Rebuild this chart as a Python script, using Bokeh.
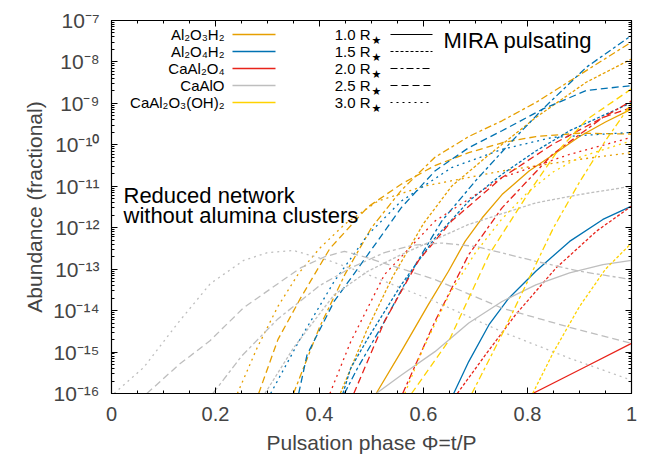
from bokeh.plotting import figure
from bokeh.models import Range1d, FixedTicker, LinearAxis, LogAxis, Label, CustomJSTickFormatter
from bokeh.embed import file_html
from bokeh.resources import INLINE

# ---------------- data (phase, log10 abundance) ----------------
species = ["Al\u2082O\u2083H\u2082", "Al\u2082O\u2084H\u2082", "CaAl\u2082O\u2084", "CaAlO", "CaAl\u2082O\u2083(OH)\u2082"]
radii = ["1.0", "1.5", "2.0", "2.5", "3.0"]

# Al2O3H2
al2o3h2_10_x = [0.509, 0.557, 0.609, 0.648, 0.68, 0.713, 0.751, 0.803, 0.855, 0.9, 0.95, 1.0]
al2o3h2_10_y = [-16.0, -14.99, -13.86, -13.05, -12.33, -11.76, -11.2, -10.63, -10.19, -9.8, -9.45, -9.14]
al2o3h2_15_x = [0.44, 0.49, 0.54, 0.6, 0.654, 0.719, 0.816, 0.913, 1.0]
al2o3h2_15_y = [-16.0, -14.5, -13.2, -11.9, -11.0, -10.31, -9.34, -8.49, -7.93]
al2o3h2_20_x = [0.35, 0.4, 0.45, 0.5, 0.557, 0.622, 0.687, 0.751, 0.816, 0.913, 1.0]
al2o3h2_20_y = [-16.0, -14.4, -13.1, -12.0, -11.1, -10.3, -9.8, -9.42, -8.98, -8.21, -7.52]
al2o3h2_25_x = [0.283, 0.32, 0.3635, 0.42, 0.493, 0.557, 0.622, 0.687, 0.751, 0.816, 0.9, 1.0]
al2o3h2_25_y = [-16.0, -14.7, -13.7, -12.5, -11.5, -10.95, -10.5, -10.19, -9.95, -9.8, -9.72, -9.74]
al2o3h2_30_x = [0.242, 0.28, 0.32, 0.36, 0.4, 0.45, 0.512, 0.6, 0.751, 0.9, 1.0]
al2o3h2_30_y = [-16.0, -14.9, -13.9, -13.1, -12.5, -11.9, -11.36, -11.0, -10.63, -10.35, -10.19]

# Al2O4H2
al2o4h2_10_x = [0.658, 0.687, 0.726, 0.764, 0.816, 0.881, 0.945, 1.0]
al2o4h2_10_y = [-16.0, -15.23, -14.34, -13.7, -13.05, -12.33, -11.8, -11.48]
al2o4h2_15_x = [0.445, 0.46, 0.493, 0.557, 0.622, 0.687, 0.751, 0.816, 0.881, 1.0]
al2o4h2_15_y = [-16.0, -15.39, -14.67, -13.38, -12.25, -11.36, -10.71, -10.15, -9.66, -8.98]
al2o4h2_20_x = [0.448, 0.473, 0.525, 0.577, 0.635, 0.7, 0.764, 0.829, 0.913, 1.0]
al2o4h2_20_y = [-16.0, -15.39, -14.26, -13.05, -11.84, -10.87, -9.99, -9.14, -8.13, -7.36]
al2o4h2_25_x = [0.36, 0.376, 0.428, 0.493, 0.557, 0.622, 0.687, 0.751, 0.829, 0.913, 1.0]
al2o4h2_25_y = [-16.0, -15.07, -13.78, -12.65, -11.52, -10.63, -10.07, -9.66, -9.14, -8.69, -8.57]
al2o4h2_30_x = [0.306, 0.3635, 0.428, 0.493, 0.557, 0.654, 0.751, 0.848, 1.0]
al2o4h2_30_y = [-16.0, -14.67, -13.3, -12.17, -11.36, -10.55, -10.11, -9.82, -9.7]

# CaAl2O4
caal2o4_10_x = [0.81, 0.906, 1.0]
caal2o4_10_y = [-16.0, -15.39, -14.79]
caal2o4_15_x = [0.665, 0.719, 0.777, 0.855, 0.933, 1.0]
caal2o4_15_y = [-16.0, -15.07, -14.1, -12.97, -12.08, -11.48]
caal2o4_20_x = [0.56, 0.622, 0.687, 0.751, 0.848, 0.945, 1.0]
caal2o4_20_y = [-16.0, -14.26, -12.65, -11.52, -10.23, -9.34, -8.94]
caal2o4_25_x = [0.466, 0.525, 0.59, 0.654, 0.751, 0.848, 0.945, 1.0]
caal2o4_25_y = [-16.0, -14.26, -12.8, -11.84, -10.79, -9.99, -9.34, -9.1]
caal2o4_30_x = [0.42, 0.46, 0.525, 0.622, 0.751, 0.881, 1.0]
caal2o4_30_y = [-16.0, -14.75, -13.13, -11.84, -10.79, -10.23, -9.82]

# CaAlO
caalo_10_x = [0.509, 0.557, 0.622, 0.687, 0.751, 0.816, 0.881, 0.945, 1.0]
caalo_10_y = [-16.0, -15.56, -14.99, -14.3, -13.78, -13.38, -13.09, -12.89, -12.79]
caalo_15_x = [0.295, 0.35, 0.428, 0.493, 0.557, 0.687, 0.816, 0.9, 1.0]
caalo_15_y = [-16.0, -14.9, -13.62, -13.05, -12.65, -11.92, -11.4, -11.2, -11.0]
caalo_20_x = [0.195, 0.25, 0.32, 0.4, 0.46, 0.525, 0.58, 0.635, 0.7, 0.816, 0.9, 1.0]
caalo_20_y = [-16.0, -15.1, -14.2, -13.4, -12.97, -12.6, -12.42, -12.37, -12.45, -12.81, -13.05, -13.25]
caalo_25_x = [0.068, 0.13, 0.19, 0.254, 0.32, 0.3635, 0.41, 0.448, 0.493, 0.622, 0.751, 0.88, 1.0]
caalo_25_y = [-16.0, -15.3, -14.72, -13.93, -13.35, -12.97, -12.7, -12.57, -12.73, -13.25, -13.94, -14.4, -14.79]
caalo_30_x = [0.005, 0.062, 0.127, 0.19, 0.254, 0.3, 0.35, 0.42, 0.493, 0.622, 0.751, 0.881, 1.0]
caalo_30_y = [-16.0, -15.37, -14.31, -13.35, -12.79, -12.6, -12.55, -12.8, -13.13, -13.78, -14.51, -15.15, -15.68]

# CaAl2O3(OH)2
caal2o3oh2_15_x = [0.81, 0.85, 0.9, 0.95, 1.0]
caal2o3oh2_15_y = [-16.0, -15.0, -13.9, -13.0, -12.37]
caal2o3oh2_20_x = [0.693, 0.75, 0.8, 0.85, 0.9, 0.95, 1.0]
caal2o3oh2_20_y = [-16.0, -14.6, -13.3, -12.0, -10.9, -9.9, -9.0]
caal2o3oh2_25_x = [0.577, 0.65, 0.726, 0.8, 0.855, 0.913, 1.0]
caal2o3oh2_25_y = [-16.0, -14.7, -12.65, -11.2, -10.2, -9.4, -8.65]
caal2o3oh2_30_x = [0.564, 0.6, 0.65, 0.7, 0.75, 0.8, 0.85, 0.9, 1.0]
caal2o3oh2_30_y = [-16.0, -14.9, -13.6, -12.6, -11.8, -11.15, -10.65, -10.3, -9.9]

x_ticks = [0, 0.2, 0.4, 0.6, 0.8, 1]
x_tick_labels = ["0", "0.2", "0.4", "0.6", "0.8", "1"]
y_exponents = list(range(-16, -6))

# ---------------- style ----------------
FONT = "Liberation Sans"
colors = ["#E69F00", "#0072B2", "#E8231A", "#BEBEBE", "#FFD200"]
dashes = {"1.0": "solid", "1.5": "3 2", "2.0": "7 3 3 3", "2.5": "7 4", "3.0": "2 4"}

curves = [
    (0, "1.0", al2o3h2_10_x, al2o3h2_10_y), (0, "1.5", al2o3h2_15_x, al2o3h2_15_y),
    (0, "2.0", al2o3h2_20_x, al2o3h2_20_y), (0, "2.5", al2o3h2_25_x, al2o3h2_25_y),
    (0, "3.0", al2o3h2_30_x, al2o3h2_30_y),
    (1, "1.0", al2o4h2_10_x, al2o4h2_10_y), (1, "1.5", al2o4h2_15_x, al2o4h2_15_y),
    (1, "2.0", al2o4h2_20_x, al2o4h2_20_y), (1, "2.5", al2o4h2_25_x, al2o4h2_25_y),
    (1, "3.0", al2o4h2_30_x, al2o4h2_30_y),
    (2, "1.0", caal2o4_10_x, caal2o4_10_y), (2, "1.5", caal2o4_15_x, caal2o4_15_y),
    (2, "2.0", caal2o4_20_x, caal2o4_20_y), (2, "2.5", caal2o4_25_x, caal2o4_25_y),
    (2, "3.0", caal2o4_30_x, caal2o4_30_y),
    (3, "1.0", caalo_10_x, caalo_10_y), (3, "1.5", caalo_15_x, caalo_15_y),
    (3, "2.0", caalo_20_x, caalo_20_y), (3, "2.5", caalo_25_x, caalo_25_y),
    (3, "3.0", caalo_30_x, caalo_30_y),
    (4, "1.5", caal2o3oh2_15_x, caal2o3oh2_15_y), (4, "2.0", caal2o3oh2_20_x, caal2o3oh2_20_y),
    (4, "2.5", caal2o3oh2_25_x, caal2o3oh2_25_y), (4, "3.0", caal2o3oh2_30_x, caal2o3oh2_30_y),
]

FL, FT, FB = 111, 20, 393  # frame edges in page pixels

p = figure(width=656, height=464, x_range=Range1d(0, 1), y_range=Range1d(1e-16, 1e-7),
           y_axis_type="log", output_backend="svg", toolbar_location=None,
           min_border_left=FL, min_border_right=25, min_border_top=FT, min_border_bottom=464 - FB,
           x_axis_location=None, y_axis_location=None)
p.grid.visible = False
p.outline_line_color = "black"
p.outline_line_width = 1.2
p.background_fill_color = "white"
p.border_fill_color = "white"

for si, r, xs, ys in curves:
    p.line(xs, [10.0 ** v for v in ys], line_color=colors[si], line_width=1.3,
           line_dash=dashes[r])

# axes
xt = FixedTicker(ticks=x_ticks, minor_ticks=[i * 0.05 for i in range(21)])
yt = FixedTicker(ticks=[10.0 ** e for e in y_exponents],
                 minor_ticks=[m * 10.0 ** e for e in range(-16, -7) for m in range(2, 10)])

sup = CustomJSTickFormatter(code="""
const e = Math.round(Math.log10(tick));
const s = {'-':'\u207b','0':'\u2070','1':'\u00b9','2':'\u00b2','3':'\u00b3','4':'\u2074','5':'\u2075','6':'\u2076','7':'\u2077','8':'\u2078','9':'\u2079'};
return '10' + String(e).split('').map(c => s[c]).join('');
""")
xlab = CustomJSTickFormatter(args=dict(t=x_ticks, l=x_tick_labels), code="""
for (let i = 0; i < t.length; i++) { if (Math.abs(t[i] - tick) < 1e-9) return l[i]; }
return '';
""")

def style(ax, labels):
    ax.major_tick_in = 6
    ax.major_tick_out = 0
    ax.minor_tick_in = 3
    ax.minor_tick_out = 0
    ax.axis_line_color = "black"
    ax.major_tick_line_color = "black"
    ax.minor_tick_line_color = "black"
    if not labels:
        ax.major_label_text_font_size = "1px"
        ax.major_label_text_alpha = 0
        ax.major_label_standoff = 0

xb = LinearAxis(ticker=xt, formatter=xlab, axis_label="Pulsation phase \u03a6=t/P")
style(xb, True)
xb.major_label_text_font = FONT
xb.major_label_text_font_size = "20px"
xb.major_label_standoff = 13
xb.axis_label_text_font = FONT
xb.axis_label_text_font_size = "21px"
xb.axis_label_text_font_style = "normal"
xb.axis_label_standoff = 7
p.add_layout(xb, "below")

xa = LinearAxis(ticker=xt)
style(xa, False)
p.add_layout(xa, "above")

yl = LogAxis(ticker=yt, formatter=sup, axis_label="Abundance (fractional)")
style(yl, True)
yl.major_label_text_font = FONT
yl.major_label_text_font_size = "21px"
yl.major_label_standoff = 12
yl.axis_label_text_font = FONT
yl.axis_label_text_font_size = "21px"
yl.axis_label_text_font_style = "normal"
yl.axis_label_standoff = 4
p.add_layout(yl, "left")

yr = LogAxis(ticker=yt)
style(yr, False)
p.add_layout(yr, "right")

# ---------------- legend & notes (gnuplot style) ----------------
def px_x(px):
    return (px - FL) / 520.0

def px_y(py):
    return 10.0 ** (-7 - (py - FT) / 41.444)

def label(px, py, text, size, align="left", font=FONT):
    # screen units are relative to the frame's bottom-left corner
    p.add_layout(Label(x=px - FL, y=FB - py, x_units="screen", y_units="screen", text=text,
                       text_align=align, text_baseline="middle", text_font=font,
                       text_font_size=size, text_color="black"))

rows = [34, 51, 68, 85, 102]
for i, name in enumerate(species):
    label(224, rows[i], name, "15px", align="right")
    p.line([px_x(232), px_x(275)], [px_y(rows[i])] * 2, line_color=colors[i], line_width=1.4)

for i, r in enumerate(radii):
    label(370, rows[i], r + " R", "15px", align="right")
    label(371, rows[i] + 6, "\u2605", "11px", font="DejaVu Sans")
    p.line([px_x(390), px_x(432)], [px_y(rows[i])] * 2, line_color="black", line_width=1.2,
           line_dash=dashes[r])

label(443, 40, "MIRA pulsating", "22px")
label(123, 195, "Reduced network", "22px")
label(123, 215, "without alumina clusters", "22px")

open("out.html", "w").write(file_html(p, INLINE))
